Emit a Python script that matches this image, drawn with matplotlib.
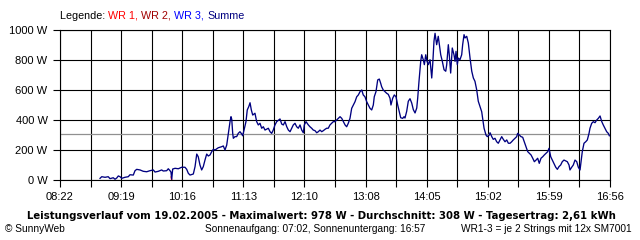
import matplotlib
matplotlib.use('Agg')
import matplotlib.pyplot as plt
import numpy as np

# ---------------- data ----------------
# time in minutes since midnight, power in W (Summe)
time_min = [
    539.4, 541.0, 544.1, 547.1, 548.7, 551.8, 553.4, 555.0, 556.5, 558.1,
    559.7, 562.7, 565.8, 567.4, 570.5, 572.1, 573.7, 576.8, 579.8, 583.0,
    586.1, 589.2, 590.8, 593.9, 597.0, 598.5, 601.7, 603.2, 604.8, 605.7,
    606.4, 607.3, 609.5, 612.6, 615.7, 618.8, 620.4, 621.9, 623.5, 626.6,
    628.2, 629.8, 631.2, 632.8, 634.4, 635.9, 637.5, 639.1, 640.6, 642.2,
    643.8, 645.3, 646.9, 649.9, 653.1, 654.6, 656.2, 657.8, 659.3, 660.9,
    661.8, 662.5, 663.4, 664.0, 665.5, 667.1, 668.6, 670.2, 671.8, 672.7,
    674.0, 675.8, 677.0, 678.4, 679.6, 680.8, 682.1, 684.2, 685.8, 687.3,
    688.9, 690.5, 692.0, 693.6, 696.7, 698.3, 699.8, 701.3, 702.9, 704.5,
    707.6, 709.2, 710.7, 712.3, 713.9, 715.4, 717.0, 718.5, 720.0, 721.6,
    723.2, 724.7, 726.3, 727.9, 729.4, 730.3, 731.9, 734.1, 735.6, 737.2,
    738.7, 740.3, 741.9, 743.4, 745.0, 746.6, 748.1, 749.7, 751.2, 752.7,
    754.3, 755.9, 757.4, 759.0, 760.6, 762.1, 763.7, 765.3, 766.8, 768.4,
    769.9, 771.4, 773.0, 774.6, 776.1, 777.7, 779.3, 780.8, 782.4, 784.0,
    785.4, 787.0, 788.6, 790.1, 791.7, 793.3, 794.8, 795.7, 797.3, 798.9,
    800.4, 801.7, 802.6, 804.1, 805.7, 807.3, 808.8, 810.4, 811.3, 812.9,
    814.4, 816.0, 817.6, 819.1, 820.4, 822.3, 823.5, 824.4, 826.0, 827.5,
    829.1, 830.7, 832.2, 833.8, 835.4, 836.3, 837.5, 839.1, 840.0, 841.5,
    842.5, 843.8, 845.0, 846.2, 847.8, 849.4, 850.3, 851.5, 852.5, 854.0,
    855.5, 856.5, 857.8, 859.3, 860.9, 862.5, 863.4, 864.9, 865.8, 867.1,
    868.6, 870.2, 871.2, 872.1, 873.3, 874.2, 875.8, 877.4, 878.3, 879.6,
    880.5, 882.1, 883.6, 885.2, 886.8, 888.3, 889.8, 891.4, 892.9, 894.5,
    896.1, 897.0, 898.3, 900.1, 901.3, 903.2, 903.9, 905.5, 906.9, 908.5,
    910.1, 911.6, 913.2, 914.8, 916.3, 917.9, 919.5, 921.0, 922.6, 924.1,
    925.6, 927.2, 928.8, 929.7, 931.2, 932.8, 934.4, 935.9, 937.5, 939.1,
    940.6, 942.2, 943.8, 945.3, 946.9, 948.4, 949.9, 951.5, 953.1, 954.6,
    956.2, 957.8, 959.0, 960.6, 962.1, 963.7, 965.3, 966.8, 968.3, 969.9,
    971.4, 973.0, 974.6, 976.1, 977.7, 978.6, 980.2, 981.7, 983.3, 984.9,
    986.4, 988.0, 988.9, 990.1, 991.7, 993.3, 994.8, 996.4, 997.3, 998.9,
    1000.4, 1002.0, 1003.6, 1005.1, 1006.7, 1008.3, 1009.7, 1011.3, 1012.9, 1014.4,
    1015.4,
]
power_w = [
    11, 22, 18, 22, 9, 15, 5, 13, 27, 22,
    11, 18, 22, 35, 33, 62, 71, 67, 58, 55,
    62, 67, 53, 58, 67, 60, 62, 75, 62, 53,
    5, 73, 78, 75, 85, 85, 71, 45, 33, 40,
    89, 173, 155, 100, 67, 89, 133, 173, 160, 167,
    189, 205, 200, 215, 222, 227, 200, 233, 311, 389,
    422, 405, 311, 278, 289, 289, 311, 322, 307, 295,
    333, 389, 467, 489, 515, 467, 433, 445, 389, 367,
    378, 345, 355, 333, 345, 322, 311, 333, 367, 389,
    407, 373, 367, 389, 355, 333, 322, 345, 367, 378,
    355, 345, 367, 333, 315, 367, 389, 367, 355, 345,
    333, 329, 315, 322, 333, 322, 329, 338, 345, 345,
    367, 378, 389, 389, 400, 411, 422, 411, 389, 367,
    355, 378, 411, 478, 500, 522, 555, 567, 589, 600,
    567, 555, 522, 500, 478, 467, 500, 555, 589, 667,
    673, 645, 622, 600, 589, 578, 571, 545, 500, 545,
    567, 555, 500, 455, 415, 411, 422, 413, 458, 525,
    542, 513, 469, 447, 480, 547, 658, 791, 835, 802,
    769, 835, 791, 769, 802, 680, 769, 925, 978, 902,
    958, 902, 835, 791, 735, 725, 769, 902, 835, 713,
    880, 835, 791, 858, 769, 813, 802, 835, 902, 969,
    947, 958, 913, 813, 725, 680, 658, 602, 525, 491,
    455, 411, 345, 300, 289, 300, 315, 289, 271, 278,
    255, 245, 267, 289, 271, 255, 267, 245, 245, 255,
    267, 278, 289, 311, 300, 289, 285, 255, 222, 189,
    178, 167, 145, 122, 133, 145, 111, 145, 155, 167,
    178, 189, 211, 155, 133, 111, 85, 71, 89, 100,
    122, 133, 127, 122, 100, 67, 85, 100, 133, 122,
    85, 67, 122, 189, 245, 255, 267, 311, 345, 378,
    389, 382, 400, 411, 427, 389, 367, 345, 322, 311,
    295,
]
# small visible piece of WR 1 (red)
wr1_time = [605.9, 606.4]
wr1_w = [20, 0]

mean_w = 308
x_start, x_end = 502, 1016  # 08:22 .. 16:56
x_labels = ["08:22", "09:19", "10:16", "11:13", "12:10",
            "13:08", "14:05", "15:02", "15:59", "16:56"]
y_ticks = [0, 200, 400, 600, 800, 1000]
y_labels = ["0 W", "200 W", "400 W", "600 W", "800 W", "1000 W"]

legend_parts = [("Legende: ", "black"), ("WR 1, ", "#ff0000"),
                ("WR 2, ", "#a00000"), ("WR 3, ", "#0000ff"), ("Summe", "#000080")]
title = ("Leistungsverlauf vom 19.02.2005 - Maximalwert: 978 W - "
         "Durchschnitt: 308 W - Tagesertrag: 2,61 kWh")
foot_left = "\u00a9 SunnyWeb"
foot_mid = "Sonnenaufgang: 07:02, Sonnenuntergang: 16:57"
foot_right = "WR1-3 = je 2 Strings mit 12x SM7001"

# ---------------- figure ----------------
W, H = 640, 240
fig = plt.figure(figsize=(W / 100, H / 100), dpi=100)
fig.patch.set_facecolor("white")
ax = fig.add_axes([60 / W, 1 - 180 / H, 550 / W, 150 / H])

ax.plot(wr1_time, wr1_w, color="#ff0000", lw=1.0, zorder=3)
ax.plot(time_min, power_w, color="#000080", lw=0.95, zorder=4)
ax.axhline(mean_w, color="#909090", lw=0.9, zorder=2)

ax.set_xlim(x_start, x_end)
ax.set_ylim(0, 1000)
major = np.linspace(x_start, x_end, len(x_labels))
minor = (major[:-1] + major[1:]) / 2
ax.set_xticks(major)
ax.set_xticklabels(x_labels)
ax.set_xticks(minor, minor=True)
ax.set_yticks(y_ticks)
ax.set_yticklabels(y_labels)

ax.grid(True, which="both", color="black", lw=0.8, zorder=1)
ax.tick_params(which="both", direction="out", length=5, width=0.8,
               colors="black", labelsize=8)
ax.tick_params(axis="y", which="minor", left=False)
ax.tick_params(axis="x", pad=4)
ax.tick_params(axis="y", pad=4)
for lab in ax.get_xticklabels() + ax.get_yticklabels():
    lab.set_fontfamily("Liberation Sans")
for sp in ax.spines.values():
    sp.set_color("black")
    sp.set_linewidth(0.8)

fig.canvas.draw()
renderer = fig.canvas.get_renderer()


def fit_text(x0, yc, width, s, family="Liberation Sans", weight="normal",
             color="black", base=8.0):
    t = fig.text(x0 / W, 1 - yc / H, s, fontsize=base, ha="left", va="center",
                 family=family, weight=weight, color=color)
    bb = t.get_window_extent(renderer)
    fs = base * width / bb.width
    t.set_fontsize(fs)
    return t, fs


# legend (multi-coloured)
full = "".join(p for p, _ in legend_parts)
tmp, fs_leg = fit_text(60, 16, 185, full)
tmp.remove()
x = 60
for s, c in legend_parts:
    t = fig.text(x / W, 1 - 16 / H, s, fontsize=fs_leg, ha="left", va="center",
                 family="Liberation Sans", color=c)
    bb = t.get_window_extent(renderer)
    x += bb.width

fit_text(27, 216, 587, title, family="DejaVu Sans", weight="bold")

fs_foot = 7.3
fig.text(5 / W, 1 - 229 / H, foot_left, fontsize=fs_foot, ha="left", va="center",
         family="Liberation Sans")
fig.text(205 / W, 1 - 229 / H, foot_mid, fontsize=fs_foot, ha="left", va="center",
         family="Liberation Sans")
fig.text(632 / W, 1 - 229 / H, foot_right, fontsize=fs_foot, ha="right", va="center",
         family="Liberation Sans")

fig.savefig("out.png", dpi=100, facecolor="white")
